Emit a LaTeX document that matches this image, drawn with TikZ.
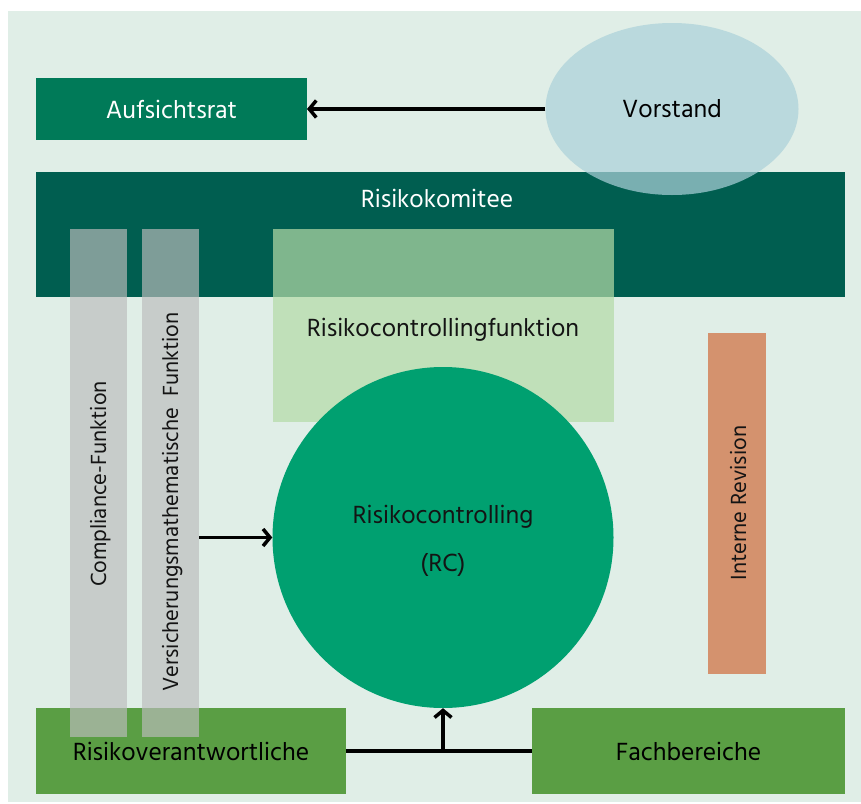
\documentclass[tikz,border=0pt]{standalone}
\usepackage{fontspec}
\setmainfont{Hind Madurai}
\usetikzlibrary{arrows.meta,shapes.geometric}
\definecolor{panel}{RGB}{224,238,231}
\definecolor{aufs}{RGB}{0,122,88}
\definecolor{komitee}{RGB}{0,94,80}
\definecolor{vorst}{RGB}{171,209,217}
\definecolor{graybar}{RGB}{188,188,188}
\definecolor{rcf}{RGB}{180,219,167}
\definecolor{rc}{RGB}{0,160,112}
\definecolor{revision}{RGB}{212,146,110}
\definecolor{leaf}{RGB}{90,158,68}
\definecolor{ink}{RGB}{20,20,20}
\tikzset{
  box/.style={rectangle, inner sep=0pt, outer sep=0pt, draw=none},
  lbl/.style={inner sep=0pt, text=ink},
  vlbl/.style={inner sep=0pt, text=ink, rotate=90, font=\fontsize{22.5}{26}\selectfont},
  conn/.style={draw=black, line width=3.5pt, -{Straight Barb[length=7pt,width=17pt]}},
  plain/.style={draw=black, line width=3.5pt}
}
\begin{document}
\begin{tikzpicture}[x=1pt,y=-1pt, every node/.style={font=\fontsize{25.5}{30}\selectfont}]
\useasboundingbox (0,0) rectangle (861,803);
\fill[white] (0,0) rectangle (861,803);
\fill[panel] (8,11) rectangle (861,802);
% Aufsichtsrat
\node[box, fill=aufs, minimum width=271pt, minimum height=62pt, text=white] (auf) at (171.5,109) {Aufsichtsrat};
% Risikokomitee
\node[box, fill=komitee, minimum width=809pt, minimum height=125pt] (kom) at (440.5,234.5) {};
\node[lbl, text=white] (komt) at (437,198) {Risikokomitee};
% Vorstand
\node[ellipse, inner sep=0pt, fill=vorst, fill opacity=0.71, text opacity=1, minimum width=253pt, minimum height=172pt] (vor) at (672,109) {Vorstand};
% bottom boxes
\node[box, fill=leaf, minimum width=310pt, minimum height=86pt] (rv) at (191,751) {Risikoverantwortliche};
\node[box, fill=leaf, minimum width=313pt, minimum height=86pt] (fb) at (688.5,751) {Fachbereiche};
% gray bars
\node[box, fill=graybar, fill opacity=0.67, minimum width=57pt, minimum height=508pt] (cb) at (98.5,483) {};
\node[box, fill=graybar, fill opacity=0.67, minimum width=57pt, minimum height=508pt] (vb) at (170.5,483) {};
\node[vlbl] (cbt) at (101,484) {Compliance-Funktion};
\node[vlbl] (vbt) at (173,502) {Versicherungsmathematische\ \ Funktion};
% Risikocontrollingfunktion
\node[box, fill=rcf, fill opacity=0.71, minimum width=341pt, minimum height=193pt] (rcfb) at (443.5,325.5) {};
\node[lbl] (rcft) at (443,330) {Risikocontrollingfunktion};
% circle
\node[circle, inner sep=0pt, fill=rc, minimum size=341pt] (circ) at (443,537.5) {};
\node[lbl] (rct1) at (443,517) {Risikocontrolling};
\node[lbl] (rct2) at (443,565) {(RC)};
% Interne Revision
\node[box, fill=revision, minimum width=58pt, minimum height=341pt] (ir) at (737,503.5) {};
\node[vlbl] (irt) at (739,503) {Interne Revision};
% connectors
\draw[conn] (vor.west) -- (auf.east);
\draw[conn] (vb.east |- circ.west) -- (circ.west);
\draw[plain] (rv.east) -- (fb.west);
\coordinate (j) at (rv.east -| circ.south);
\draw[conn] (j) -- (circ.south);
\end{tikzpicture}
\end{document}
